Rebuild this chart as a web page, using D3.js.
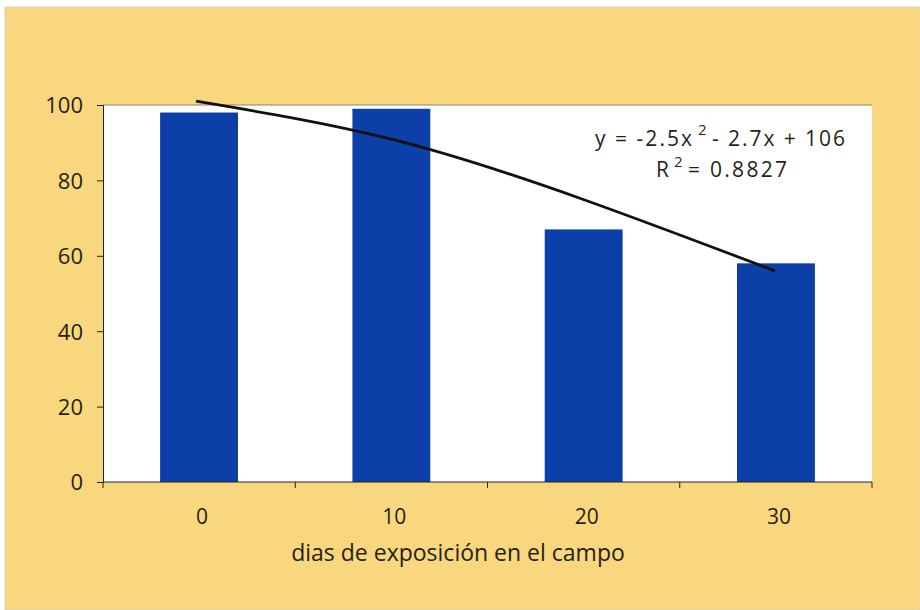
<!DOCTYPE html>
<html>
<head>
<meta charset="utf-8">
<script src="https://cdn.jsdelivr.net/npm/d3@7"></script>
<style>
  body { margin: 0; background: #fff; }
  svg { display: block; }
  text { font-family: "Open Sans", "Noto Sans", sans-serif; fill: #261f16; }
</style>
</head>
<body>
<div id="chart"></div>
<script>
const days = ["0", "10", "20", "30"];
const values = [98, 99, 67, 58];
const trendValues = [101, 91, 75, 56];
const yTicks = [0, 20, 40, 60, 80, 100];
const equation = "y = -2.5x";
const equationRest = "- 2.7x + 106";
const rSquared = "= 0.8827";
const xTitle = "dias de exposición en el campo";

const width = 920, height = 610;
const margin = { top: 105, right: 48, bottom: 128, left: 103 };
const innerW = width - margin.left - margin.right;
const innerH = height - margin.top - margin.bottom;

const svg = d3.select("#chart").append("svg")
    .attr("width", width)
    .attr("height", height);

// background panel
svg.append("rect").attr("width", width).attr("height", height).attr("fill", "#fff");
svg.append("rect")
    .attr("x", 5).attr("y", 7)
    .attr("width", width - 5).attr("height", height - 7)
    .attr("fill", "#f8d77e")
    .attr("stroke", "#d8d2c2")
    .attr("stroke-width", 1);

const g = svg.append("g").attr("transform", `translate(${margin.left},${margin.top})`);

const x = d3.scaleBand().domain(days).range([0, innerW]).paddingInner(0.595).paddingOuter(0.297);
const y = d3.scaleLinear().domain([0, 100]).range([innerH, 0]);

g.append("rect")
    .attr("width", innerW).attr("height", innerH)
    .attr("fill", "#fff");
g.append("line")
    .attr("x1", 0).attr("x2", innerW).attr("y1", 0).attr("y2", 0)
    .attr("stroke", "#8a8478").attr("stroke-width", 1);

g.selectAll(".bar")
    .data(values)
    .join("rect")
    .attr("class", "bar")
    .attr("x", (d, i) => x(days[i]))
    .attr("y", d => y(d))
    .attr("width", x.bandwidth())
    .attr("height", d => innerH - y(d))
    .attr("fill", "#0c3fa7");

// y axis
const yAxis = g.append("g")
    .call(d3.axisLeft(y).tickValues(yTicks).tickSize(6).tickPadding(14));
yAxis.select(".domain").attr("stroke", "#222");
yAxis.selectAll(".tick line").attr("stroke", "#222");
yAxis.selectAll("text").style("font-size", "22px").attr("fill", "#261f16").attr("dy", "0.36em");

// x axis: ticks at band boundaries
const xAxis = g.append("g").attr("transform", `translate(0,${innerH})`);
xAxis.append("line")
    .attr("x1", 0).attr("x2", innerW)
    .attr("stroke", "#222");
xAxis.selectAll(".xt")
    .data(d3.range(days.length + 1))
    .join("line")
    .attr("x1", i => i * innerW / days.length)
    .attr("x2", i => i * innerW / days.length)
    .attr("y1", 0).attr("y2", 6)
    .attr("stroke", "#222");
xAxis.selectAll(".xl")
    .data(days)
    .join("text")
    .attr("x", d => x(d) + x.bandwidth() / 2 + 3)
    .attr("y", 42)
    .attr("text-anchor", "middle")
    .style("font-size", "21px")
    .text(d => d);

g.append("text")
    .attr("x", 458 - margin.left)
    .attr("y", 561 - margin.top)
    .attr("text-anchor", "middle")
    .style("font-size", "23px")
    .text(xTitle);

// trend line
const line = d3.line()
    .x((d, i) => x(days[i]) + x.bandwidth() / 2 - (i === 0 ? 3 : 1))
    .y(d => y(d))
    .curve(d3.curveNatural);
g.append("path")
    .datum(trendValues)
    .attr("d", line)
    .attr("fill", "none")
    .attr("stroke", "#111")
    .attr("stroke-width", 2.8);

// equation
const ox = margin.left, oy = margin.top;
const eq = g.append("g").style("font-size", "21px");
eq.append("text").attr("x", 595 - ox).attr("y", 146 - oy)
    .attr("textLength", 97).attr("lengthAdjust", "spacing").text(equation);
eq.append("text").attr("x", 698 - ox).attr("y", 135 - oy)
    .style("font-size", "15px").text("2");
eq.append("text").attr("x", 712 - ox).attr("y", 146 - oy)
    .attr("textLength", 133).attr("lengthAdjust", "spacing").text(equationRest);

eq.append("text").attr("x", 656 - ox).attr("y", 177 - oy).text("R");
eq.append("text").attr("x", 674 - ox).attr("y", 167 - oy)
    .style("font-size", "15px").text("2");
eq.append("text").attr("x", 688 - ox).attr("y", 177 - oy)
    .attr("textLength", 99).attr("lengthAdjust", "spacing").text(rSquared);
</script>
</body>
</html>
